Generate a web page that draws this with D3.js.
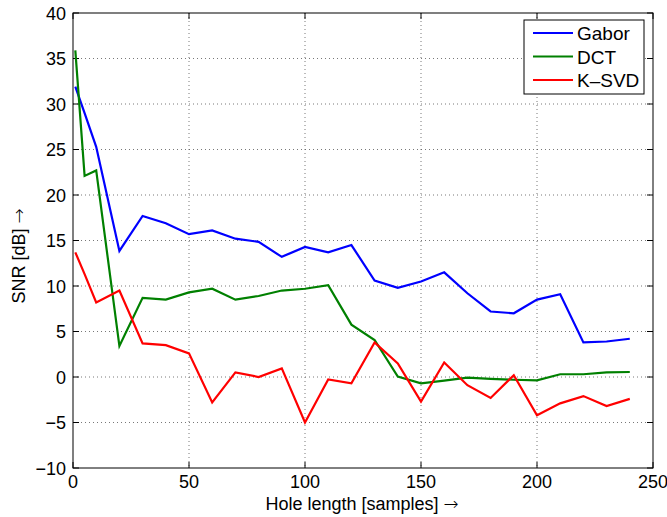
<!DOCTYPE html>
<html>
  <head>
    <script src="https://d3js.org/d3.v7.min.js"></script>
    <style>
      body { margin: 0; background: #fff; }
      text { font-family: "Liberation Sans", Arial, sans-serif; }
      .arr { font-family: "DejaVu Sans", sans-serif; font-weight: 200; }
    </style>
  </head>
  <body>
  </body>
</html>

<script>
  var width = 667
  var height = 517

  var holeLen = [1, 5, 10, 20, 30, 40, 50, 60, 70, 80, 90, 100, 110, 120, 130, 140, 150, 160, 170, 180, 190, 200, 210, 220, 230, 240]
  var gabor = [31.9, 29.0, 25.3, 13.85, 17.7, 16.9, 15.7, 16.1, 15.2, 14.85, 13.2, 14.3, 13.7, 14.5, 10.6, 9.8, 10.5, 11.5, 9.2, 7.2, 7.0, 8.5, 9.1, 3.8, 3.9, 4.2]
  var dct = [35.9, 22.1, 22.7, 3.4, 8.7, 8.5, 9.3, 9.7, 8.5, 8.9, 9.5, 9.7, 10.1, 5.75, 4.07, 0.04, -0.7, -0.4, -0.07, -0.2, -0.3, -0.37, 0.3, 0.3, 0.5, 0.55]
  var ksvd = [13.7, 11.3, 8.2, 9.5, 3.7, 3.5, 2.6, -2.8, 0.5, 0.0, 0.95, -5.0, -0.26, -0.7, 3.8, 1.5, -2.7, 1.6, -0.9, -2.3, 0.2, -4.2, -2.9, -2.1, -3.2, -2.4]

  var seriesNames = ["Gabor", "DCT", "K\u2013SVD"]
  var seriesColors = ["#0000ff", "#008000", "#ff0000"]
  var seriesData = [gabor, dct, ksvd]

  var xTicks = [0, 50, 100, 150, 200, 250]
  var yTicks = [-10, -5, 0, 5, 10, 15, 20, 25, 30, 35, 40]

  var mLeft = 73, mRight = 653, mTop = 13, mBottom = 468

  var x = d3.scaleLinear().domain([0, 250]).range([mLeft, mRight])
  var y = d3.scaleLinear().domain([-10, 40]).range([mBottom, mTop])

  var svg = d3.select("body")
              .append("svg")
              .attr("width", width)
              .attr("height", height)

  // grid
  svg.selectAll(".gx")
     .data(xTicks.slice(1, -1))
     .enter().append("line")
     .attr("x1", d => x(d)).attr("x2", d => x(d))
     .attr("y1", mTop).attr("y2", mBottom)
     .attr("stroke", "#555").attr("stroke-width", 0.8)
     .attr("stroke-dasharray", "1,3")

  svg.selectAll(".gy")
     .data(yTicks.slice(1, -1))
     .enter().append("line")
     .attr("x1", mLeft).attr("x2", mRight)
     .attr("y1", d => y(d)).attr("y2", d => y(d))
     .attr("stroke", "#555").attr("stroke-width", 0.8)
     .attr("stroke-dasharray", "1,3")

  // box
  svg.append("rect")
     .attr("x", mLeft).attr("y", mTop)
     .attr("width", mRight - mLeft).attr("height", mBottom - mTop)
     .attr("fill", "none").attr("stroke", "#000").attr("stroke-width", 1)

  // inward ticks, all four sides
  var tk = 6
  xTicks.forEach(function(t) {
    svg.append("line").attr("x1", x(t)).attr("x2", x(t)).attr("y1", mBottom).attr("y2", mBottom - tk).attr("stroke", "#000")
    svg.append("line").attr("x1", x(t)).attr("x2", x(t)).attr("y1", mTop).attr("y2", mTop + tk).attr("stroke", "#000")
  })
  yTicks.forEach(function(t) {
    svg.append("line").attr("x1", mLeft).attr("x2", mLeft + tk).attr("y1", y(t)).attr("y2", y(t)).attr("stroke", "#000")
    svg.append("line").attr("x1", mRight).attr("x2", mRight - tk).attr("y1", y(t)).attr("y2", y(t)).attr("stroke", "#000")
  })

  // tick labels
  svg.selectAll(".xl")
     .data(xTicks)
     .enter().append("text")
     .attr("x", d => x(d)).attr("y", mBottom + 20)
     .attr("text-anchor", "middle")
     .attr("font-size", 18)
     .text(d => d)

  svg.selectAll(".yl")
     .data(yTicks)
     .enter().append("text")
     .attr("x", mLeft - 7).attr("y", d => y(d) + 6.5)
     .attr("text-anchor", "end")
     .attr("font-size", 18)
     .text(d => d < 0 ? "\u2212" + Math.abs(d) : d)

  // axis labels
  var xl = svg.append("text")
     .attr("x", 362).attr("y", 510)
     .attr("text-anchor", "middle")
     .attr("font-size", 18)
  xl.append("tspan").text("Hole length [samples] ")
  xl.append("tspan").attr("class", "arr").text("\u2192")

  var yl = svg.append("text")
     .attr("transform", "translate(25,256) rotate(-90)")
     .attr("text-anchor", "middle")
     .attr("font-size", 18)
  yl.append("tspan").text("SNR [dB] ")
  yl.append("tspan").attr("class", "arr").text("\u2192")

  // lines
  var line = d3.line()
               .x(function(d, i) { return x(holeLen[i]) })
               .y(function(d) { return y(d) })

  seriesData.forEach(function(s, k) {
    svg.append("path")
       .attr("d", line(s))
       .attr("fill", "none")
       .attr("stroke", seriesColors[k])
       .attr("stroke-width", 2.2)
  })

  // legend
  var lg = svg.append("g").attr("transform", "translate(524,20)")
  lg.append("rect")
    .attr("width", 120).attr("height", 74)
    .attr("fill", "#fff").attr("stroke", "#000")
  seriesNames.forEach(function(n, k) {
    lg.append("line")
      .attr("x1", 9).attr("x2", 49)
      .attr("y1", 13 + k * 23.5).attr("y2", 13 + k * 23.5)
      .attr("stroke", seriesColors[k]).attr("stroke-width", 2.2)
    lg.append("text")
      .attr("x", 53).attr("y", 20 + k * 23.5)
      .attr("font-size", 19)
      .text(n)
  })
</script>
